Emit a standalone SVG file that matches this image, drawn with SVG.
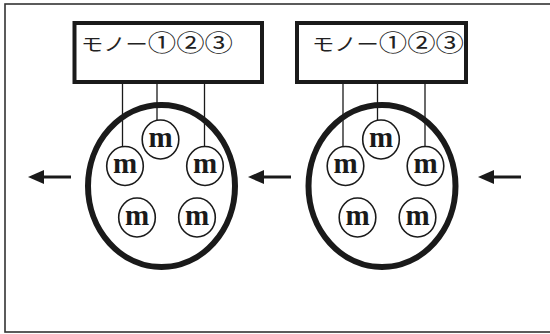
<svg xmlns="http://www.w3.org/2000/svg" width="550" height="334" viewBox="0 0 550 334">
  <defs>
    <style>
      .frame { fill: none; stroke: #333; stroke-width: 1.6; }
      .box { fill: #fff; stroke: #1a1a1a; stroke-width: 4; }
      .label { font-family: "Noto Sans CJK JP", "Noto Sans CJK SC", sans-serif; font-size: 18px; fill: #222; }
      .num { font-size: 23px; }
      .wire { stroke: #1a1a1a; stroke-width: 1.3; fill: none; }
      .ring { fill: none; stroke: #1a1a1a; stroke-width: 6; }
      .motor { fill: #fff; stroke: #1a1a1a; stroke-width: 1.6; }
      .m { font-family: "Liberation Serif", "Times New Roman", serif; font-weight: bold; font-size: 29px; fill: #1a1a1a; text-anchor: middle; }
      .shaft { stroke: #1a1a1a; stroke-width: 3; fill: none; }
      .head { fill: #1a1a1a; }
    </style>
    <g id="motor">
      <ellipse class="motor" cx="0" cy="0" rx="18.3" ry="19.5"/>
      <text class="m" x="0" y="7">m</text>
    </g>
  </defs>

  <rect class="frame" x="5" y="4" width="550" height="328"/>

  <!-- wiring from each controller down to the first three motors -->
  <g id="connectors">
    <line class="wire" x1="122.5" y1="84" x2="122.5" y2="148"/>
    <line class="wire" x1="157" y1="84" x2="157" y2="121"/>
    <line class="wire" x1="204.5" y1="84" x2="204.5" y2="147"/>
    <line class="wire" x1="343" y1="84" x2="343" y2="148"/>
    <line class="wire" x1="377.5" y1="84" x2="377.5" y2="121"/>
    <line class="wire" x1="425" y1="84" x2="425" y2="147"/>
  </g>

  <g id="controller-left">
    <rect class="box" x="74.5" y="23" width="187.5" height="59"/>
    <text class="label" x="81" y="51" textLength="152" lengthAdjust="spacingAndGlyphs">モノー<tspan class="num">①②③</tspan></text>
  </g>
  <g id="controller-right">
    <rect class="box" x="297" y="23" width="169" height="59"/>
    <text class="label" x="312" y="51" textLength="152" lengthAdjust="spacingAndGlyphs">モノー<tspan class="num">①②③</tspan></text>
  </g>

  <g id="unit-left">
    <ellipse class="ring" cx="161.5" cy="186" rx="73.5" ry="81"/>
    <use href="#motor" x="160.5" y="139.5"/>
    <use href="#motor" x="125" y="166"/>
    <use href="#motor" x="205" y="166"/>
    <use href="#motor" x="137" y="217.5"/>
    <use href="#motor" x="197" y="217.5"/>
  </g>

  <g id="unit-right">
    <ellipse class="ring" cx="382" cy="186" rx="73.5" ry="81"/>
    <use href="#motor" x="381" y="139.5"/>
    <use href="#motor" x="345.5" y="166"/>
    <use href="#motor" x="425.5" y="166"/>
    <use href="#motor" x="357.5" y="217.5"/>
    <use href="#motor" x="417.5" y="217.5"/>
  </g>

  <g id="arrows">
    <line class="shaft" x1="40" y1="177" x2="71" y2="177"/>
    <polygon class="head" points="28,177 44,170 44,184"/>
    <line class="shaft" x1="260" y1="177" x2="291" y2="177"/>
    <polygon class="head" points="248,177 264,170 264,184"/>
    <line class="shaft" x1="490" y1="177" x2="521" y2="177"/>
    <polygon class="head" points="478,177 494,170 494,184"/>
  </g>
</svg>
